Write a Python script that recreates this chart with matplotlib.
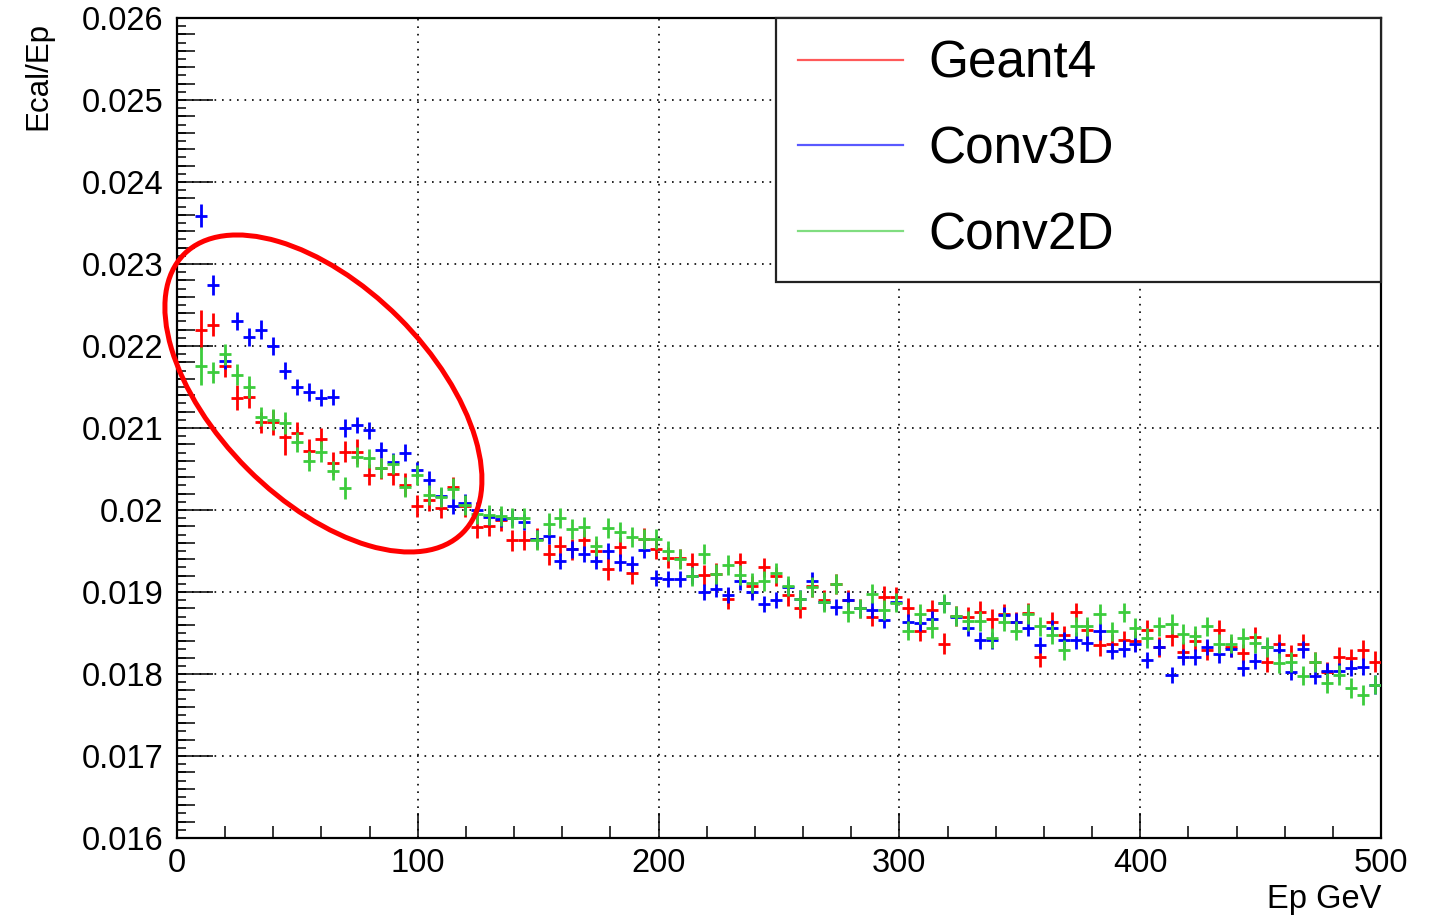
import numpy as np
import matplotlib
matplotlib.use('Agg')
import matplotlib.pyplot as plt
from matplotlib.patches import Ellipse
from matplotlib.lines import Line2D
from matplotlib.ticker import MultipleLocator, FixedLocator
from matplotlib.transforms import IdentityTransform

plt.rcParams['font.family'] = ['Liberation Sans', 'DejaVu Sans']

# ---------------- data ----------------
ep_gev = [10.0, 15.0, 19.9, 24.9, 29.9, 34.9, 39.8, 44.8, 49.8, 54.8,
          59.7, 64.7, 69.7, 74.7, 79.6, 84.6, 89.6, 94.6, 99.5, 104.5,
          109.5, 114.5, 119.4, 124.4, 129.4, 134.4, 139.3, 144.3, 149.3, 154.3,
          159.2, 164.2, 169.2, 174.2, 179.1, 184.1, 189.1, 194.1, 199.0, 204.0,
          209.0, 214.0, 218.9, 223.9, 228.9, 233.9, 238.8, 243.8, 248.8, 253.8,
          258.7, 263.7, 268.7, 273.7, 278.6, 283.6, 288.6, 293.6, 298.5, 303.5,
          308.5, 313.5, 318.4, 323.4, 328.4, 333.4, 338.3, 343.3, 348.3, 353.3,
          358.2, 363.2, 368.2, 373.2, 378.1, 383.1, 388.1, 393.1, 398.0, 403.0,
          408.0, 413.0, 417.9, 422.9, 427.9, 432.9, 437.8, 442.8, 447.8, 452.8,
          457.7, 462.7, 467.7, 472.7, 477.6, 482.6, 487.6, 492.6, 497.5]
ep_halfwidth = 2.5

geant4 = [0.02220, 0.02226, 0.02175, 0.02137, 0.02138, 0.02107, 0.02107, 0.02089, 0.02094, 0.02072,
          0.02087, 0.02057, 0.02071, 0.02071, 0.02043, 0.02051, 0.02044, 0.02031, 0.02005, 0.02012,
          0.02003, 0.02028, 0.02005, 0.01979, 0.01980, 0.01988, 0.01963, 0.01963, 0.01965, 0.01946,
          0.01956, 0.01952, 0.01963, 0.01950, 0.01928, 0.01955, 0.01923, 0.01965, 0.01952, 0.01942,
          0.01941, 0.01934, 0.01921, 0.01922, 0.01892, 0.01936, 0.01907, 0.01930, 0.01919, 0.01896,
          0.01880, 0.01907, 0.01890, 0.01910, 0.01890, 0.01880, 0.01870, 0.01894, 0.01894, 0.01881,
          0.01853, 0.01878, 0.01837, 0.01871, 0.01870, 0.01876, 0.01867, 0.01873, 0.01864, 0.01874,
          0.01821, 0.01864, 0.01847, 0.01875, 0.01854, 0.01835, 0.01837, 0.01841, 0.01840, 0.01854,
          0.01833, 0.01846, 0.01827, 0.01840, 0.01829, 0.01854, 0.01833, 0.01825, 0.01845, 0.01815,
          0.01837, 0.01823, 0.01837, 0.01815, 0.01803, 0.01821, 0.01819, 0.01829, 0.01815]

conv3d = [0.02359, 0.02274, 0.02182, 0.02230, 0.02211, 0.02220, 0.02200, 0.02170, 0.02150, 0.02144,
          0.02137, 0.02138, 0.02100, 0.02104, 0.02097, 0.02073, 0.02059, 0.02070, 0.02049, 0.02037,
          0.02017, 0.02005, 0.02009, 0.02000, 0.01992, 0.01989, 0.01990, 0.01985, 0.01965, 0.01968,
          0.01938, 0.01952, 0.01946, 0.01938, 0.01950, 0.01936, 0.01934, 0.01951, 0.01917, 0.01916,
          0.01916, 0.01920, 0.01900, 0.01904, 0.01896, 0.01913, 0.01900, 0.01885, 0.01890, 0.01906,
          0.01892, 0.01914, 0.01888, 0.01882, 0.01890, 0.01880, 0.01878, 0.01866, 0.01888, 0.01863,
          0.01862, 0.01867, 0.01886, 0.01870, 0.01856, 0.01841, 0.01841, 0.01872, 0.01864, 0.01856,
          0.01835, 0.01856, 0.01841, 0.01841, 0.01838, 0.01852, 0.01828, 0.01831, 0.01837, 0.01817,
          0.01833, 0.01799, 0.01821, 0.01821, 0.01833, 0.01824, 0.01831, 0.01807, 0.01816, 0.01833,
          0.01829, 0.01803, 0.01830, 0.01798, 0.01804, 0.01804, 0.01807, 0.01809, 0.01787]

conv2d = [0.02176, 0.02168, 0.02190, 0.02165, 0.02150, 0.02114, 0.02110, 0.02106, 0.02083, 0.02060,
          0.02071, 0.02048, 0.02027, 0.02065, 0.02063, 0.02051, 0.02056, 0.02028, 0.02043, 0.02018,
          0.02016, 0.02026, 0.02006, 0.01995, 0.01994, 0.01993, 0.01990, 0.01990, 0.01963, 0.01983,
          0.01990, 0.01977, 0.01979, 0.01956, 0.01978, 0.01973, 0.01967, 0.01965, 0.01965, 0.01950,
          0.01940, 0.01919, 0.01946, 0.01922, 0.01933, 0.01921, 0.01911, 0.01913, 0.01923, 0.01907,
          0.01891, 0.01906, 0.01888, 0.01910, 0.01876, 0.01880, 0.01898, 0.01878, 0.01887, 0.01853,
          0.01873, 0.01856, 0.01886, 0.01871, 0.01865, 0.01865, 0.01844, 0.01864, 0.01853, 0.01873,
          0.01858, 0.01848, 0.01829, 0.01858, 0.01858, 0.01873, 0.01852, 0.01875, 0.01856, 0.01844,
          0.01858, 0.01861, 0.01849, 0.01846, 0.01858, 0.01837, 0.01837, 0.01844, 0.01838, 0.01833,
          0.01813, 0.01815, 0.01798, 0.01815, 0.01789, 0.01799, 0.01783, 0.01774, 0.01787]

# vertical error half-lengths, in units of 1e-4
geant4_err = [2.4, 1.4, 1.3, 1.5, 1.4, 1.3, 1.5, 2.2, 1.3, 1.4,
              1.3, 1.4, 1.3, 1.5, 1.3, 1.3, 1.3, 1.4, 1.3, 1.3,
              1.3, 1.2, 1.3, 1.3, 1.2, 1.3, 1.3, 1.2, 1.3, 1.3,
              1.2, 1.3, 1.3, 1.2, 1.3, 1.2, 1.3, 1.3, 1.2, 1.3,
              1.2, 1.3, 1.2, 1.3, 1.3, 1.2, 1.3, 1.2, 1.2, 1.3,
              1.2, 1.3, 1.2, 1.2, 1.3, 1.2, 1.2, 1.3, 1.2, 1.2,
              1.3, 1.2, 1.3, 1.2, 1.2, 1.3, 1.2, 1.2, 1.2, 1.3,
              1.3, 1.2, 1.2, 1.2, 1.2, 1.3, 1.2, 1.2, 1.2, 1.2,
              1.2, 1.2, 1.2, 1.2, 1.2, 1.2, 1.2, 1.2, 1.2, 1.2,
              1.2, 1.2, 1.2, 1.2, 1.2, 1.2, 1.2, 1.2, 1.3]
conv3d_err = [1.4, 1.2, 1.0, 1.1, 1.1, 1.2, 1.1, 1.0, 1.0, 1.1,
              1.0, 1.0, 1.1, 1.0, 1.0, 1.0, 1.0, 1.0, 1.0, 1.0,
              1.0, 1.0, 1.0, 1.0, 1.0, 1.0, 1.0, 1.0, 1.0, 1.0,
              1.0, 1.0, 1.0, 1.0, 1.0, 1.0, 1.0, 1.0, 1.0, 1.0,
              1.0, 1.0, 1.0, 1.0, 1.0, 1.0, 1.0, 1.0, 1.0, 1.0,
              1.0, 1.0, 1.0, 1.0, 1.0, 1.0, 1.0, 1.0, 1.0, 1.0,
              1.0, 1.0, 1.0, 1.0, 1.0, 1.0, 1.0, 1.0, 1.0, 1.0,
              1.0, 1.0, 1.0, 1.0, 1.0, 1.0, 1.0, 1.0, 1.0, 1.0,
              1.0, 1.0, 1.0, 1.0, 1.0, 1.0, 1.0, 1.0, 1.0, 1.0,
              1.0, 1.0, 1.0, 1.0, 1.0, 1.0, 1.0, 1.0, 1.2]
conv2d_err = [2.3, 1.3, 1.3, 1.3, 1.3, 1.2, 1.3, 1.3, 1.2, 1.2,
              1.3, 1.2, 1.3, 1.2, 1.2, 1.2, 1.2, 1.2, 1.2, 1.2,
              1.2, 1.3, 1.2, 1.2, 1.2, 1.2, 1.2, 1.2, 1.2, 1.3,
              1.2, 1.2, 1.2, 1.2, 1.2, 1.2, 1.2, 1.2, 1.2, 1.2,
              1.2, 1.2, 1.2, 1.2, 1.2, 1.2, 1.2, 1.2, 1.2, 1.2,
              1.2, 1.2, 1.2, 1.2, 1.2, 1.2, 1.2, 1.2, 1.2, 1.2,
              1.2, 1.2, 1.2, 1.2, 1.2, 1.2, 1.2, 1.2, 1.2, 1.2,
              1.2, 1.2, 1.2, 1.2, 1.2, 1.2, 1.2, 1.2, 1.2, 1.2,
              1.2, 1.2, 1.2, 1.2, 1.2, 1.2, 1.2, 1.2, 1.2, 1.2,
              1.2, 1.2, 1.2, 1.2, 1.2, 1.2, 1.2, 1.2, 1.2]

series_names = ['Geant4', 'Conv3D', 'Conv2D']
series_colors = ['#ff0000', '#0000ff', '#3ccc3c']

yticks = [0.016, 0.017, 0.018, 0.019, 0.020, 0.021, 0.022, 0.023, 0.024, 0.025, 0.026]
ytick_labels = ['0.016', '0.017', '0.018', '0.019', '0.02', '0.021', '0.022',
                '0.023', '0.024', '0.025', '0.026']
xticks = [0, 100, 200, 300, 400, 500]
xtick_labels = ['0', '100', '200', '300', '400', '500']

# ---------------- figure ----------------
W, H = 1435, 915
fig = plt.figure(figsize=(W / 100, H / 100), dpi=100)
ax = fig.add_axes([177 / W, 1 - 838 / H, (1381 - 177) / W, (838 - 18) / H])
ax.set_xlim(0, 500)
ax.set_ylim(0.016, 0.026)

all_vals = [geant4, conv3d, conv2d]
all_errs = [geant4_err, conv3d_err, conv2d_err]
for vals, errs, col, name in zip(all_vals, all_errs, series_colors, series_names):
    ax.errorbar(ep_gev, vals, yerr=np.array(errs) * 1e-4, xerr=ep_halfwidth,
                fmt='none', ecolor=col, elinewidth=2.0, capsize=0, label=name,
                zorder=3)

# grid
ax.grid(True, which='major', color='black', linestyle=(0, (1, 3.5)), linewidth=1.2)
ax.set_axisbelow(True)

# ticks (ROOT style, inside)
FS = 23.5
ax.set_xticks(xticks)
ax.set_xticklabels(xtick_labels)
ax.set_yticks(yticks)
ax.set_yticklabels(ytick_labels)
ax.xaxis.set_minor_locator(MultipleLocator(20))
ax.yaxis.set_minor_locator(MultipleLocator(0.0002))
ax.tick_params(axis='x', which='major', direction='in', length=17.7, width=1.1,
               labelsize=FS, pad=7, top=False)
ax.tick_params(axis='x', which='minor', direction='in', length=8.9, width=1.1, top=False)
ax.tick_params(axis='y', which='major', direction='in', length=26, width=1.1,
               labelsize=FS, pad=10, right=False)
ax.tick_params(axis='y', which='minor', direction='in', length=13, width=1.1, right=False)

sec = ax.secondary_yaxis('left')
sec.yaxis.set_major_locator(MultipleLocator(0.0001))
sec.tick_params(axis='y', which='major', direction='in', length=6.5, width=1.1,
                labelleft=False)
sec.yaxis.set_minor_locator(FixedLocator([]))
sec.spines['left'].set_visible(False)

for sp in ax.spines.values():
    sp.set_linewidth(1.6)

# axis titles
ax.set_xlabel('Ep GeV', fontsize=FS, loc='right')
ax.xaxis.set_label_coords(1.0, -0.056)
ax.set_ylabel('Ecal/Ep', fontsize=22.5, loc='top')
ax.yaxis.set_label_coords(-0.103, 0.995)

# legend
handles = [Line2D([], [], color=c, lw=1.6, alpha=0.65) for c in series_colors]
leg = ax.legend(handles, series_names, loc='upper left',
                bbox_to_anchor=(0.4975, 0.0, 0.5025, 1.0), mode='expand',
                fontsize=37, frameon=True, fancybox=False, framealpha=1,
                edgecolor='#222222', borderpad=0.42, labelspacing=0.715,
                handlelength=2.05, handletextpad=0.5, borderaxespad=0.0)
leg.get_frame().set_linewidth(1.6)
leg.set_zorder(5)

# red annotation ellipse
cx, cy = ax.transData.transform((60.8, 0.021421))
ell = Ellipse((cx, cy), 394, 214, angle=-45, transform=IdentityTransform(),
              fill=False, edgecolor='#ff0000', linewidth=3.6, clip_on=False, zorder=6)
fig.add_artist(ell)

fig.savefig('out.png', dpi=100)
